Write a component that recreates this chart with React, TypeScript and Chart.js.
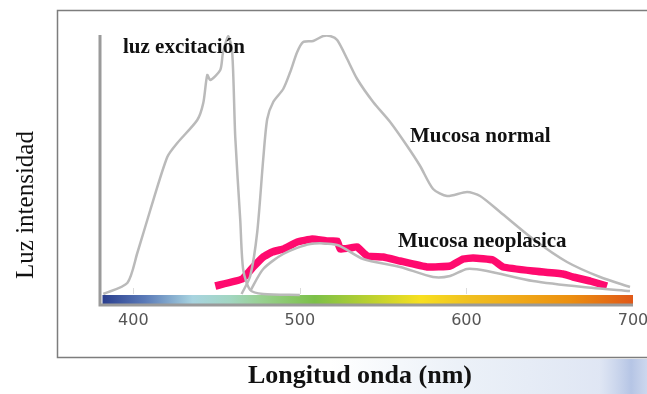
import { useEffect, useRef } from "react";
import { Chart, registerables } from "chart.js";

Chart.register(...registerables);

// Wavelength axis (nm)
const xMin = 380;
const xMax = 700;
const tickValues = [400, 500, 600, 700];

// "luz excitación" curve
const excitacionNm = [382, 396.4, 402.4, 410.2, 420.4, 426.4, 438.4, 442, 444.4, 446.2, 452.2, 453.8, 457, 459.4, 461.2, 464.2, 466, 470.2, 478, 500];
const excitacionVal = [11, 22, 52, 95, 148, 162, 185, 202, 230, 225, 235, 252, 269, 252, 168, 85, 35, 15, 11, 10];

// "Mucosa normal" curve
const normalNm = [465, 470.2, 474.4, 478, 480.4, 484, 490, 494.2, 498.4, 502, 508, 514, 518.2, 522.4, 528.4, 534.4, 544, 554.2, 564.4, 572.2, 580, 588.4, 600.4, 608.2, 620.2, 640, 660.4, 680.2, 698.2];
const normalVal = [11, 29, 73, 146, 186, 203, 216, 233, 253, 263, 264, 269, 269, 265, 246, 226, 203, 183, 159, 139, 116, 109, 113, 109, 93, 66, 43, 28, 18];

// original (grey) neoplastic curve under the highlight
const neoGrisNm = [470.2, 478, 490, 506.2, 522.4, 538, 560.2, 580, 590.2, 600.4, 612.4, 640, 670, 698.2];
const neoGrisVal = [14, 36, 51, 61, 60, 46, 38, 28, 29, 36, 34, 24, 18, 14];

// "Mucosa neoplasica" highlighted curve
const neoNm = [449.2, 465.4, 472, 478, 483.4, 490, 498.4, 507.4, 516.4, 522.4, 524.2, 530.2, 534.4, 540.4, 550, 560.2, 576.4, 590.2, 598, 604, 616, 622, 640, 658, 664, 674.2, 684.4];
const neoVal = [19, 26, 38, 48, 53, 56, 63, 66, 64, 64, 56, 57, 58, 49, 48, 44, 38, 39, 46, 47, 45, 38, 34, 31, 28, 24, 19];

const pts = (xs: number[], ys: number[]) => xs.map((x, i) => ({ x, y: ys[i] }));

const decor = {
  id: "decor",
  beforeDraw(chart: any) {
    const { ctx, chartArea: a, scales } = chart;
    const x = scales.x;
    ctx.save();
    ctx.fillStyle = "#ffffff";
    ctx.fillRect(0, 0, chart.width, chart.height);

    // faint bluish background picture at bottom right
    const bg = ctx.createLinearGradient(330, 0, 647, 0);
    bg.addColorStop(0, "rgba(200,215,235,0)");
    bg.addColorStop(0.4, "rgba(200,215,235,0.35)");
    bg.addColorStop(0.85, "rgba(185,200,230,0.45)");
    bg.addColorStop(0.95, "rgba(150,172,218,0.7)");
    bg.addColorStop(1, "rgba(170,188,225,0.6)");
    ctx.fillStyle = bg;
    ctx.fillRect(330, 359, 317, 35);

    // frame
    ctx.strokeStyle = "#7d7d7d";
    ctx.lineWidth = 1.5;
    ctx.beginPath();
    ctx.moveTo(647, 10.5);
    ctx.lineTo(57.5, 10.5);
    ctx.lineTo(57.5, 357.5);
    ctx.lineTo(647, 357.5);
    ctx.stroke();

    // faint tick marks
    ctx.strokeStyle = "#dcdcdc";
    ctx.lineWidth = 1;
    for (const v of tickValues.slice(0, 3)) {
      const px = Math.round(x.getPixelForValue(v)) + 0.5;
      ctx.beginPath();
      ctx.moveTo(px, a.bottom - 17);
      ctx.lineTo(px, a.bottom - 11);
      ctx.stroke();
    }

    // spectrum bar
    const x0 = x.getPixelForValue(381.5);
    const x1 = x.getPixelForValue(700);
    const g = ctx.createLinearGradient(x0, 0, x1, 0);
    g.addColorStop(0, "#2a3e8e");
    g.addColorStop(0.08, "#5a7ab8");
    g.addColorStop(0.17, "#a8d4e0");
    g.addColorStop(0.24, "#a2d6c2");
    g.addColorStop(0.3, "#98d090");
    g.addColorStop(0.4, "#7cc048");
    g.addColorStop(0.5, "#b8d030");
    g.addColorStop(0.6, "#f8e020");
    g.addColorStop(0.69, "#f0c020");
    g.addColorStop(0.79, "#f0a818");
    g.addColorStop(0.88, "#ec9010");
    g.addColorStop(1, "#e05818");
    ctx.fillStyle = g;
    ctx.fillRect(x0, a.bottom - 10, x1 - x0, 10);

    // L-shaped axis
    ctx.strokeStyle = "#9a9a9a";
    ctx.lineWidth = 3;
    ctx.beginPath();
    ctx.moveTo(a.left, a.top);
    ctx.lineTo(a.left, a.bottom);
    ctx.lineTo(x1, a.bottom);
    ctx.stroke();
    ctx.restore();
  },
  afterDraw(chart: any) {
    const { ctx } = chart;
    ctx.save();
    ctx.fillStyle = "#111";
    ctx.textBaseline = "alphabetic";
    ctx.textAlign = "left";
    ctx.font = "bold 21px 'Liberation Serif', 'Times New Roman', serif";
    ctx.fillText("luz excitación", 123, 53);
    ctx.fillText("Mucosa normal", 410, 142);
    ctx.fillText("Mucosa neoplasica", 398, 247);

    ctx.textAlign = "center";
    ctx.font = "bold 26px 'Liberation Serif', 'Times New Roman', serif";
    ctx.fillText("Longitud onda (nm)", 360, 383);

    ctx.font = "25px 'Liberation Serif', 'Times New Roman', serif";
    ctx.translate(33, 205);
    ctx.rotate(-Math.PI / 2);
    ctx.fillText("Luz intensidad", 0, 0);
    ctx.restore();
  },
};

export default function App() {
  const ref = useRef<HTMLCanvasElement | null>(null);

  useEffect(() => {
    if (!ref.current) return;
    const grey = "#bababa";
    const chart = new Chart(ref.current, {
      type: "line",
      data: {
        datasets: [
          { label: "luz excitación", data: pts(excitacionNm, excitacionVal), borderColor: grey, borderWidth: 2.5, pointRadius: 0, tension: 0.25, fill: false },
          { label: "Mucosa normal", data: pts(normalNm, normalVal), borderColor: grey, borderWidth: 2.5, pointRadius: 0, tension: 0.25, fill: false },
          { label: "neoplasica (gris)", data: pts(neoGrisNm, neoGrisVal), borderColor: grey, borderWidth: 2.5, pointRadius: 0, tension: 0.25, fill: false },
          { label: "Mucosa neoplasica", data: pts(neoNm, neoVal), borderColor: "#ff0a6e", borderWidth: 7.5, pointRadius: 0, tension: 0.1, fill: false, borderJoinStyle: "round", borderCapStyle: "butt" },
        ],
      },
      options: {
        animation: false,
        responsive: false,
        devicePixelRatio: 1,
        events: [],
        layout: { autoPadding: false, padding: { left: 100, right: 14, top: 35, bottom: 49 } },
        plugins: { legend: { display: false }, tooltip: { enabled: false }, title: { display: false } },
        scales: {
          x: {
            type: "linear",
            min: xMin,
            max: xMax,
            afterFit: (s: any) => { s.height = 40; s.paddingLeft = 0; s.paddingRight = 0; },
            afterBuildTicks: (s: any) => { s.ticks = tickValues.map((v) => ({ value: v })); },
            grid: { display: false, drawTicks: false },
            border: { display: false },
            ticks: {
              color: "#555",
              padding: 6,
              maxRotation: 0,
              autoSkip: false,
              font: { family: "'DejaVu Sans', sans-serif", size: 16, weight: "normal" },
            },
          },
          y: { type: "linear", min: 0, max: 270, display: false },
        },
      },
      plugins: [decor],
    } as any);
    return () => chart.destroy();
  }, []);

  return (
    <div style={{ position: "fixed", left: 0, top: 0, width: 647, height: 394, background: "#fff" }}>
      <canvas ref={ref} width={647} height={394} style={{ display: "block", width: 647, height: 394 }} />
    </div>
  );
}
